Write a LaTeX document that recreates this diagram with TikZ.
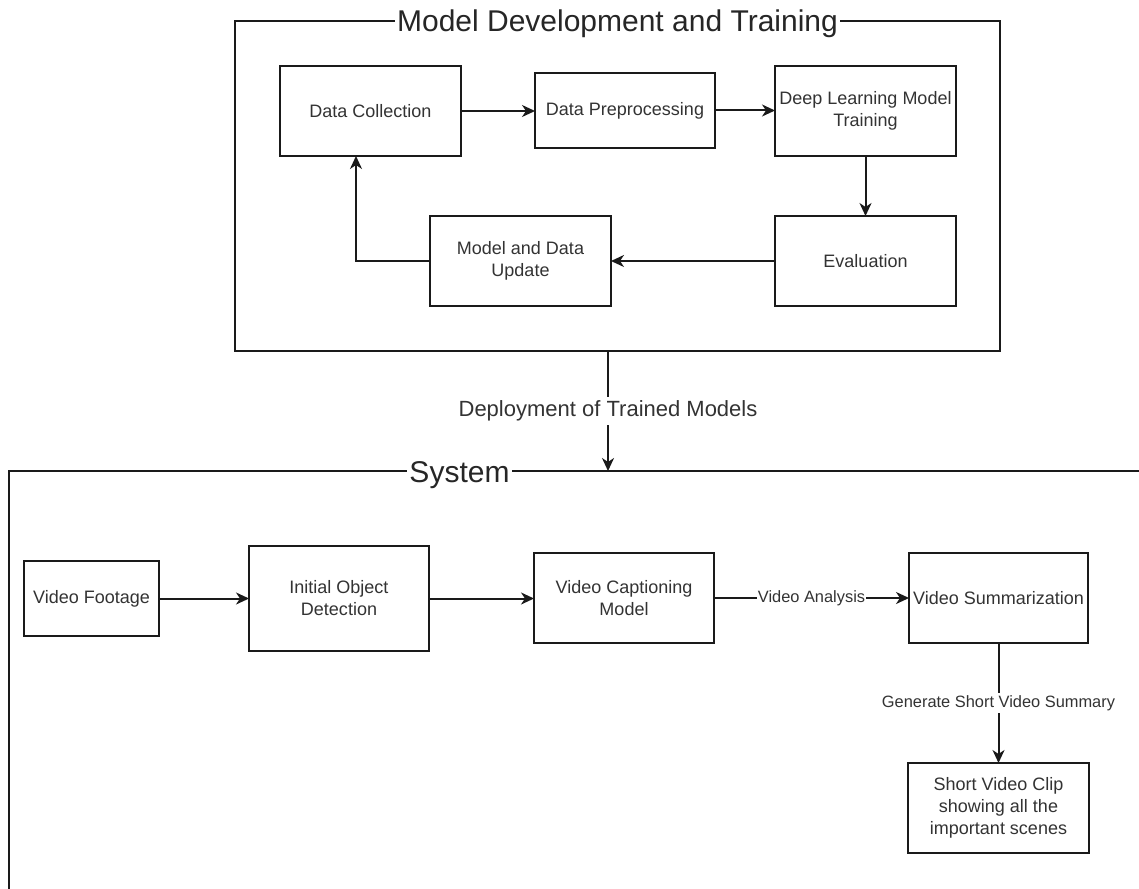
\documentclass[tikz,border=0pt]{standalone}
\usepackage{fontspec}
\setmainfont{Liberation Sans}
\usetikzlibrary{arrows.meta,calc}
\definecolor{txt}{HTML}{333333}
\definecolor{ln}{HTML}{1A1A1A}
\begin{document}
\begin{tikzpicture}[x=0.5pt,y=-0.5pt,
  box/.style={draw=ln, line width=1.2pt, inner sep=0pt, outer sep=0pt, align=center,
    text=txt, font=\fontsize{9}{11}\selectfont},
  outerframe/.style={draw=ln, line width=1.1pt},
  arr/.style={draw=ln, line width=1pt, -{Stealth[length=6.5pt,width=6pt,inset=2pt]}},
  lbl/.style={fill=white, inner xsep=0.5pt, inner ysep=1.4pt, text=txt, font=\fontsize{8.2}{10}\selectfont},
  deplbl/.style={fill=white, inner xsep=1pt, inner ysep=2pt, text=txt, font=\fontsize{11}{13}\selectfont},
  ttl/.style={fill=white, inner xsep=1pt, inner ysep=0pt, text=black!85, font=\fontsize{15}{18}\selectfont}]
\useasboundingbox (0,0) rectangle (1139,888);
\clip (0,0) rectangle (1139,888);
\fill[white] (0,0) rectangle (1139,888);

% ---- Model Development and Training frame
\node[outerframe, minimum width=382.5pt, minimum height=165pt, inner sep=0pt, outer sep=0pt] (mdt) at (617.5,186) {};
\node[ttl, anchor=base] (mdtt) at (617.5,32) {Model Development and Training};

\node[box, minimum width=90.5pt, minimum height=45pt] (dc) at (370.5,111) {Data Collection};
\node[box, minimum width=90pt, minimum height=37.5pt] (dp) at (625,110.5) {Data Preprocessing};
\node[box, minimum width=90.5pt, minimum height=45pt] (dl) at (865.5,111) {Deep Learning Model\\Training};
\node[box, minimum width=90.5pt, minimum height=45pt] (ev) at (865.5,261) {Evaluation};
\node[box, minimum width=90.5pt, minimum height=45pt] (mdu) at (520.5,261) {Model and Data\\Update};

\draw[arr] (dc.east) -- (dc.east -| dp.west);
\draw[arr] (dp.east) -- (dp.east -| dl.west);
\draw[arr] (dl.south) -- (ev.north);
\draw[arr] (ev.west) -- (mdu.east);
\draw[arr] (mdu.west) -| ($(dc.south)+(-14.5,0)$);

% ---- System frame
\draw[outerframe] (9,900) -- (9,471) -- (1150,471);
\node[ttl, anchor=base] (syst) at (459.5,482) {System};

% ---- Deployment
\coordinate (dep1) at (608,351);
\coordinate (dep2) at (608,471);
\draw[arr] (dep1) -- node[deplbl] {Deployment of Trained Models} (dep2);

% ---- System content
\node[box, minimum width=67.5pt, minimum height=37.5pt] (vf) at (91.5,598.5) {Video Footage};
\node[box, minimum width=90pt, minimum height=52.5pt] (iod) at (339,598.5) {Initial Object\\Detection};
\node[box, minimum width=90pt, minimum height=45pt] (vcm) at (624,598) {Video Captioning\\Model};
\node[box, minimum width=89.5pt, minimum height=45pt] (vs) at (998.5,598) {Video Summarization};
\node[box, minimum width=90.5pt, minimum height=45pt] (svc) at (998.5,808) {Short Video Clip\\showing all the\\important scenes};

\draw[arr] (vf.east) -- (iod.west);
\draw[arr] (iod.east) -- (iod.east -| vcm.west);
\draw[arr] (vcm.east) -- node[lbl] {Video Analysis} (vs.west);
\draw[arr] (vs.south) -- node[lbl] {Generate Short Video Summary} (svc.north);
\end{tikzpicture}
\end{document}
